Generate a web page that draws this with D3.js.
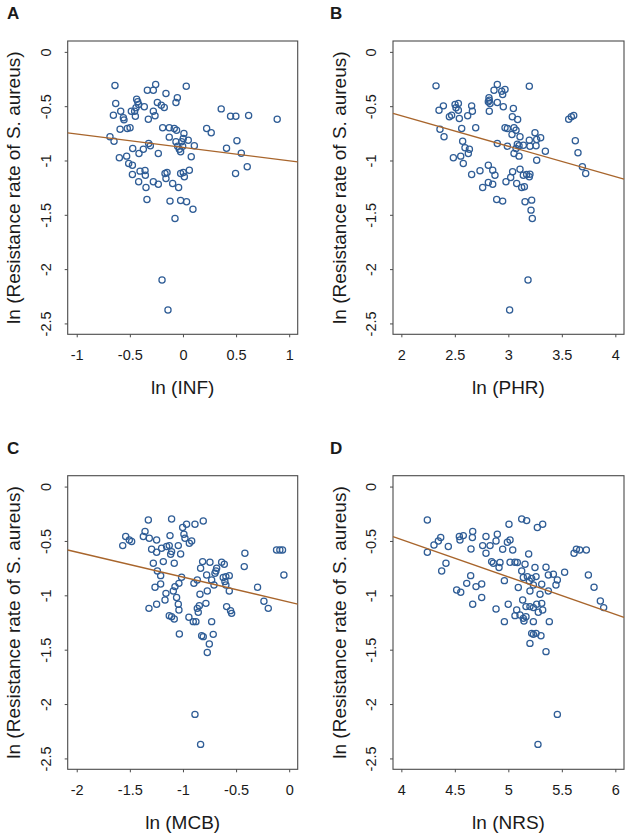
<!DOCTYPE html>
<html><head><meta charset="utf-8">
<script src="https://cdn.jsdelivr.net/npm/d3@7"></script>
<style>
html,body{margin:0;padding:0;background:#fff;}
text{font-family:"Liberation Sans",Arial,Helvetica,sans-serif;fill:#1a1a1a;}
</style></head>
<body><svg id="chart" width="633" height="839"></svg>
<script>
// ---------------- data ----------------
const yTicks = [0, -0.5, -1, -1.5, -2, -2.5];
const yTitle = "ln (Resistance rate of S. aureus)";
const panelLetters = ["A", "B", "C", "D"];
const xTitles = ["ln (INF)", "ln (PHR)", "ln (MCB)", "ln (NRS)"];
const xTicksA = [-1, -0.5, 0, 0.5, 1];
const xTicksB = [2, 2.5, 3, 3.5, 4];
const xTicksC = [-2, -1.5, -1, -0.5, 0];
const xTicksD = [4, 4.5, 5, 5.5, 6];
const xDomA = [-1.085, 1.08];
const xDomB = [1.922, 4.081];
const xDomC = [-2.085, 0.08];
const xDomD = [3.922, 6.081];
const yDom = [-2.6, 0.1];
// fitted lines: intercept, slope
const fitA = [-0.879, -0.123];
const fitB = [-0.029, -0.280];
const fitC = [-1.062, -0.2296];
const fitD = [0.888, -0.3437];

const ptsINF = [[-0.64,-0.31],[-0.335,-0.353],[-0.279,-0.353],[-0.257,-0.30],[-0.16,-0.383],[0.031,-0.316],[-0.053,-0.423],[-0.066,-0.466],[-0.633,-0.475],[-0.436,-0.436],[-0.426,-0.46],[-0.417,-0.485],[-0.442,-0.515],[-0.364,-0.506],[-0.241,-0.466],[-0.204,-0.491],[-0.176,-0.512],[-0.586,-0.546],[-0.655,-0.583],[-0.561,-0.607],[-0.555,-0.626],[-0.486,-0.546],[-0.455,-0.546],[-0.448,-0.592],[-0.279,-0.546],[-0.263,-0.589],[-0.326,-0.62],[-0.592,-0.712],[-0.524,-0.706],[-0.498,-0.699],[-0.191,-0.699],[-0.129,-0.699],[-0.082,-0.706],[-0.06,-0.721],[0.009,-0.752],[-0.129,-0.785],[0.003,-0.798],[-0.013,-0.828],[0.05,-0.813],[0.107,-0.865],[-0.687,-0.782],[-0.649,-0.822],[-0.323,-0.844],[-0.307,-0.865],[-0.373,-0.896],[-0.414,-0.936],[-0.473,-0.89],[-0.232,-0.936],[-0.066,-0.828],[-0.05,-0.868],[-0.034,-0.896],[-0.022,-0.92],[-0.003,-0.868],[0.078,-0.966],[-0.599,-0.975],[-0.53,-0.96],[-0.511,-1.028],[-0.476,-1.043],[-0.476,-1.129],[-0.404,-1.098],[-0.357,-1.092],[-0.354,-1.135],[-0.169,-1.12],[-0.15,-1.11],[-0.16,-1.166],[-0.022,-1.12],[0.003,-1.11],[0.013,-1.15],[0.06,-1.089],[-0.417,-1.196],[-0.348,-1.248],[-0.279,-1.196],[-0.232,-1.218],[-0.097,-1.212],[-0.041,-1.248],[-0.339,-1.359],[-0.122,-1.374],[-0.022,-1.368],[0.034,-1.38],[0.094,-1.448],[-0.075,-1.534],[0.223,-0.706],[0.266,-0.745],[0.36,-0.525],[0.448,-0.592],[0.498,-0.592],[0.618,-0.586],[0.887,-0.62],[0.41,-0.887],[0.508,-0.819],[0.549,-0.933],[0.495,-1.12],[0.605,-1.058],[-0.197,-2.101],[-0.141,-2.377]];

const ptsPHR = [[2.324,-0.313],[2.897,-0.301],[2.866,-0.353],[2.938,-0.362],[2.969,-0.347],[2.947,-0.393],[3.196,-0.316],[2.819,-0.423],[2.822,-0.445],[2.813,-0.46],[2.829,-0.475],[2.897,-0.466],[2.953,-0.506],[3.047,-0.521],[2.393,-0.497],[2.352,-0.537],[2.502,-0.485],[2.533,-0.475],[2.511,-0.515],[2.533,-0.537],[2.657,-0.497],[2.664,-0.546],[2.47,-0.583],[2.449,-0.598],[2.542,-0.613],[2.62,-0.589],[2.822,-0.546],[3.037,-0.598],[3.087,-0.623],[2.361,-0.712],[2.399,-0.782],[2.564,-0.706],[2.695,-0.699],[2.969,-0.699],[2.991,-0.706],[3.053,-0.699],[3.072,-0.721],[3.034,-0.761],[3.109,-0.782],[3.196,-0.813],[3.249,-0.745],[3.265,-0.807],[2.573,-0.822],[2.595,-0.883],[2.636,-0.896],[2.626,-0.936],[2.555,-0.96],[2.486,-0.975],[2.579,-1.028],[2.897,-0.844],[2.991,-0.868],[3.084,-0.85],[3.1,-0.865],[3.072,-0.89],[3.14,-0.859],[3.202,-0.868],[3.259,-0.865],[3.053,-0.936],[3.1,-0.96],[3.265,-0.997],[2.657,-1.129],[2.735,-1.095],[2.813,-1.043],[2.854,-1.089],[2.875,-1.135],[2.813,-1.202],[2.854,-1.218],[2.76,-1.248],[2.978,-1.196],[3.022,-1.156],[3.04,-1.104],[3.078,-1.212],[3.109,-1.08],[3.14,-1.135],[3.171,-1.129],[3.196,-1.15],[3.202,-1.126],[3.15,-1.242],[3.125,-1.248],[2.891,-1.359],[2.947,-1.374],[3.156,-1.38],[3.218,-1.365],[3.212,-1.457],[3.224,-1.534],[3.564,-0.62],[3.589,-0.598],[3.611,-0.586],[3.626,-0.819],[3.651,-0.929],[3.692,-1.058],[3.723,-1.12],[3.346,-0.914],[3.302,-0.791],[3.184,-2.101],[3.012,-2.377]];

const ptsMCB = [[-1.326,-0.307],[-1.107,-0.298],[-0.966,-0.347],[-1.003,-0.377],[-0.887,-0.347],[-0.809,-0.316],[-1.539,-0.46],[-1.505,-0.491],[-1.483,-0.506],[-1.567,-0.543],[-1.373,-0.46],[-1.357,-0.414],[-1.317,-0.475],[-1.248,-0.491],[-1.122,-0.451],[-0.991,-0.439],[-0.981,-0.475],[-0.918,-0.5],[-0.94,-0.521],[-1.295,-0.577],[-1.248,-0.604],[-1.201,-0.567],[-1.154,-0.552],[-1.129,-0.543],[-1.107,-0.598],[-1.116,-0.623],[-1.044,-0.543],[-1.022,-0.62],[-1.279,-0.706],[-1.185,-0.69],[-1.082,-0.706],[-0.815,-0.69],[-0.746,-0.696],[-0.636,-0.696],[-0.611,-0.715],[-0.834,-0.752],[-0.683,-0.752],[-0.69,-0.776],[-0.699,-0.798],[-1.241,-0.776],[-1.21,-0.819],[-1.013,-0.834],[-0.865,-0.859],[-0.897,-0.89],[-0.777,-0.813],[-0.73,-0.859],[-0.621,-0.837],[-0.596,-0.828],[-0.564,-0.819],[-0.605,-0.874],[-0.708,-0.905],[-0.596,-0.905],[-1.263,-0.926],[-1.21,-0.896],[-1.075,-0.92],[-1.091,-0.96],[-1.038,-0.89],[-1.16,-0.982],[-1.169,-1.043],[-1.06,-1.021],[-0.84,-0.991],[-0.771,-0.96],[-0.564,-0.96],[-1.248,-1.083],[-1.32,-1.12],[-1.044,-1.083],[-1.038,-1.135],[-0.784,-1.074],[-0.846,-1.095],[-0.865,-1.12],[-0.856,-1.156],[-0.589,-1.104],[-0.552,-1.141],[-0.542,-1.166],[-1.129,-1.187],[-1.107,-1.196],[-1.082,-1.218],[-0.944,-1.202],[-0.903,-1.242],[-0.878,-1.242],[-0.73,-1.242],[-1.034,-1.356],[-0.824,-1.371],[-0.809,-1.38],[-0.715,-1.359],[-0.752,-1.448],[-0.771,-1.525],[-0.423,-0.736],[-0.417,-0.613],[-0.298,-0.926],[-0.238,-1.055],[-0.197,-1.12],[-0.119,-0.583],[-0.088,-0.583],[-0.063,-0.583],[-0.05,-0.813],[-0.887,-2.095],[-0.834,-2.371]];

const ptsNRS = [[4.243,-0.307],[5.125,-0.298],[5.171,-0.313],[5.321,-0.347],[5.271,-0.377],[5.006,-0.347],[4.368,-0.469],[4.346,-0.5],[4.305,-0.537],[4.243,-0.604],[4.439,-0.552],[4.542,-0.46],[4.548,-0.491],[4.579,-0.451],[4.667,-0.414],[4.664,-0.469],[4.791,-0.46],[4.897,-0.439],[4.885,-0.5],[4.829,-0.543],[4.76,-0.543],[4.791,-0.613],[5.016,-0.491],[4.991,-0.512],[4.947,-0.577],[5.041,-0.583],[4.651,-0.574],[5.19,-0.62],[4.417,-0.706],[4.377,-0.776],[4.844,-0.69],[4.86,-0.706],[4.922,-0.699],[4.913,-0.745],[5.016,-0.696],[5.062,-0.696],[5.084,-0.699],[5.156,-0.715],[5.249,-0.745],[5.352,-0.742],[5.125,-0.776],[5.14,-0.837],[5.178,-0.828],[5.218,-0.844],[5.259,-0.828],[5.196,-0.868],[5.374,-0.813],[5.421,-0.807],[5.458,-0.859],[5.445,-0.905],[5.312,-0.899],[5.234,-0.905],[4.963,-0.865],[5.093,-0.929],[4.648,-0.819],[4.611,-0.89],[4.698,-0.92],[4.751,-0.896],[4.517,-0.951],[4.555,-0.972],[4.751,-1.021],[4.667,-1.083],[5.202,-0.96],[5.296,-0.991],[5.374,-0.96],[5.134,-1.043],[4.885,-1.126],[4.999,-1.083],[5.078,-1.135],[5.165,-1.104],[5.202,-1.104],[5.234,-1.113],[5.265,-1.083],[5.312,-1.074],[5.28,-1.156],[5.321,-1.135],[5.109,-1.181],[5.14,-1.212],[5.165,-1.196],[5.062,-1.187],[5.146,-1.236],[4.963,-1.242],[5.234,-1.242],[5.383,-1.242],[5.218,-1.35],[5.234,-1.359],[5.259,-1.35],[5.305,-1.371],[5.202,-1.442],[5.352,-1.518],[5.526,-0.788],[5.614,-0.613],[5.636,-0.577],[5.667,-0.583],[5.729,-0.583],[5.748,-0.813],[5.801,-0.926],[5.86,-1.052],[5.891,-1.113],[5.458,-2.095],[5.277,-2.371]];

// ---------------- layout ----------------
const boxes = [
  {l: 67.7, t: 41,    r: 297.7, b: 334.3, lx: 7,   ly: 19},
  {l: 393,  t: 41,    r: 624,   b: 334.3, lx: 330, ly: 19},
  {l: 67.7, t: 475.7, r: 297.7, b: 769.3, lx: 7,   ly: 454},
  {l: 393,  t: 475.7, r: 624,   b: 769.3, lx: 330, ly: 454}
];
const panels = [
  {pts: ptsINF, xDom: xDomA, xTicks: xTicksA, fit: fitA},
  {pts: ptsPHR, xDom: xDomB, xTicks: xTicksB, fit: fitB},
  {pts: ptsMCB, xDom: xDomC, xTicks: xTicksC, fit: fitC},
  {pts: ptsNRS, xDom: xDomD, xTicks: xTicksD, fit: fitD}
];

const svg = d3.select("#chart");
const fmt = d => String(d);
const pointColor = "#2f5d96";
const lineColor = "#a8652c";
const frameColor = "#4a4a4a";

panels.forEach((p, i) => {
  const bx = boxes[i];
  const x = d3.scaleLinear().domain(p.xDom).range([bx.l, bx.r]);
  const y = d3.scaleLinear().domain(yDom).range([bx.b, bx.t]);
  const g = svg.append("g");

  // panel letter
  g.append("text").attr("x", bx.lx).attr("y", bx.ly)
    .attr("font-size", 17).attr("font-weight", "bold").attr("fill", "#000")
    .text(panelLetters[i]);

  // x axis
  const xa = g.append("g").attr("transform", `translate(0,${bx.b})`)
    .call(d3.axisBottom(x).tickValues(p.xTicks).tickSize(3).tickPadding(12).tickFormat(fmt));
  xa.select(".domain").remove();
  xa.selectAll(".tick line").attr("stroke", frameColor);
  xa.selectAll(".tick text").attr("font-size", 14.5).attr("fill", "#1a1a1a")
    .attr("font-family", "Liberation Sans, Arial, sans-serif");

  // y axis
  const ya = g.append("g").attr("transform", `translate(${bx.l},0)`)
    .call(d3.axisLeft(y).tickValues(yTicks).tickSize(3).tickFormat(fmt));
  ya.select(".domain").remove();
  ya.selectAll(".tick line").attr("stroke", frameColor);
  ya.selectAll(".tick text")
    .attr("x", null).attr("dy", null)
    .attr("transform", "translate(-22,0) rotate(-90)")
    .attr("text-anchor", "middle").attr("dominant-baseline", "central")
    .attr("font-size", 14.5).attr("fill", "#1a1a1a")
    .attr("font-family", "Liberation Sans, Arial, sans-serif");

  // frame
  g.append("rect").attr("x", bx.l).attr("y", bx.t)
    .attr("width", bx.r - bx.l).attr("height", bx.b - bx.t)
    .attr("fill", "none").attr("stroke", frameColor).attr("stroke-width", 1.1);

  // titles
  g.append("text").attr("x", (bx.l + bx.r) / 2).attr("y", bx.b + 53)
    .attr("text-anchor", "middle").attr("dominant-baseline", "central")
    .attr("font-size", 19).text(xTitles[i]);
  g.append("text")
    .attr("transform", `translate(${bx.l - 54},${(bx.t + bx.b) / 2}) rotate(-90)`)
    .attr("text-anchor", "middle").attr("dominant-baseline", "central")
    .attr("font-size", 19).text(yTitle);

  // points
  g.append("g").selectAll("circle").data(p.pts).join("circle")
    .attr("cx", d => x(d[0])).attr("cy", d => y(d[1])).attr("r", 3.1)
    .attr("fill", "none").attr("stroke", pointColor).attr("stroke-width", 1.25);

  // regression line
  const line = d3.line().x(d => x(d)).y(d => y(p.fit[0] + p.fit[1] * d));
  g.append("path").datum(p.xDom).attr("d", line)
    .attr("fill", "none").attr("stroke", lineColor).attr("stroke-width", 1.3);
});
</script></body></html>
